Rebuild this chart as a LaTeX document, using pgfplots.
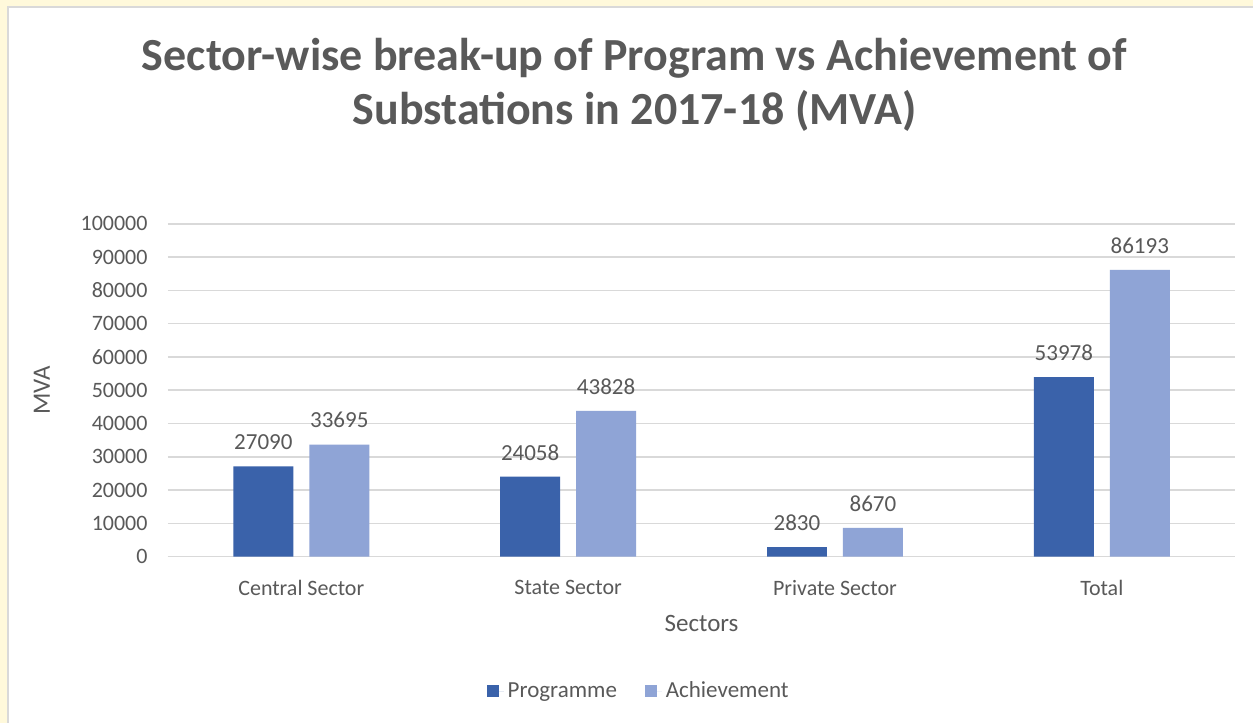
\documentclass[border=0pt]{standalone}
\usepackage{pgfplots}
\pgfplotsset{compat=1.18}
\usepackage{fontspec}
\setmainfont{Carlito}
\definecolor{prog}{HTML}{3A62AA}
\definecolor{ach}{HTML}{8FA4D6}
\definecolor{txt}{HTML}{595959}
\definecolor{gridc}{HTML}{D9D9D9}
\definecolor{bg}{HTML}{FFF9DB}
\begin{document}
\begin{tikzpicture}
\fill[bg] (0pt,0pt) rectangle (627pt,361.5pt);
\fill[white] (4pt,0pt) rectangle (627pt,358pt);
\draw[gridc, line width=0.8pt] (4pt,0pt) -- (4pt,358pt) -- (627pt,358pt);
\node[txt, font=\fontsize{23}{28}\selectfont\bfseries] at (317.5pt,332.5pt) {Sector-wise break-up of Program vs Achievement of};
\node[txt, font=\fontsize{23}{28}\selectfont\bfseries] at (317.5pt,306pt) {Substations in 2017-18 (MVA)};
\begin{axis}[
  at={(84pt,83pt)}, anchor=south west,
  scale only axis, width=534pt, height=166.5pt,
  ybar, bar width=30pt,
  xmin=-0.5, xmax=3.5, ymin=0, ymax=100000,
  enlarge x limits=false, enlarge y limits=false,
  xtick={0,1,2,3},
  xticklabels={Central Sector,State Sector,Private Sector,Total},
  ytick={0,10000,...,100000},
  scaled y ticks=false,
  /pgf/number format/fixed,
  /pgf/number format/set thousands separator={},
  /pgf/number format/assume math mode=true,
  y tick label style={font=\fontsize{11}{13}\selectfont, txt, inner sep=0pt, xshift=-10pt},
  x tick label style={font=\fontsize{11}{13}\selectfont, txt, inner sep=0pt, yshift=-11.5pt},
  major tick length=0pt,
  axis line style={draw=none},
  ymajorgrids, grid style={gridc, line width=0.8pt},
  xlabel={Sectors}, ylabel={MVA},
  xlabel style={font=\fontsize{12.5}{15}\selectfont, txt, at={(axis description cs:0.5,0)}, anchor=center, yshift=-33.5pt},
  ylabel style={font=\fontsize{12.5}{15}\selectfont, txt, at={(axis description cs:0,0.5)}, anchor=center, yshift=63pt},
  nodes near coords,
  nodes near coords style={font=\fontsize{11.5}{13}\selectfont, txt, anchor=south, inner sep=0pt, yshift=8pt},
  legend style={at={(0.442,-0.405)}, anchor=center, draw=none, fill=none, font=\fontsize{11.5}{13}\selectfont\color{txt}, legend columns=2, /tikz/every even column/.append style={column sep=12pt}, inner sep=0pt},
  legend image code/.code={\fill[#1] (-3pt,-3pt) rectangle (3pt,3pt); \path (3pt,0pt) -- (5.5pt,0pt);},
]
\draw[gridc, line width=0.8pt] (axis cs:-0.5,0) -- (axis cs:3.5,0);
\addplot[fill=prog, draw=none, bar shift=-19pt] coordinates {(0,27090) (1,24058) (2,2830) (3,53978)};
\addplot[fill=ach, draw=none, bar shift=19pt] coordinates {(0,33695) (1,43828) (2,8670) (3,86193)};
\legend{Programme, Achievement}
\end{axis}
\end{tikzpicture}
\end{document}
